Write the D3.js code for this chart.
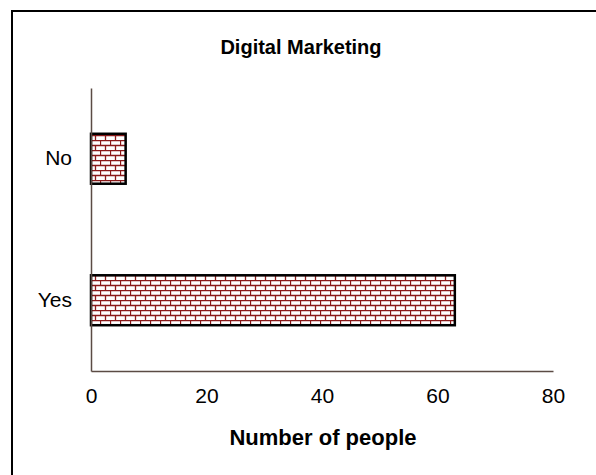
<!DOCTYPE html>
<html><head><meta charset="utf-8">
<script src="https://cdn.jsdelivr.net/npm/d3@7"></script>
<style>body{margin:0;background:#fff}svg{display:block}text{font-family:"Liberation Sans",Arial,sans-serif}</style>
</head><body>
<script>
const categories = ["No", "Yes"];
const values = [6, 63];
const xTicks = [0, 20, 40, 60, 80];
const title = "Digital Marketing";
const xTitle = "Number of people";

(function () {
const W = 596, H = 475;
const svg = d3.select("body").append("svg").attr("width", W).attr("height", H);
const defs = svg.append("defs");
const pat = defs.append("pattern").attr("id", "brick").attr("patternUnits", "userSpaceOnUse")
  .attr("width", 10).attr("height", 10);
pat.append("rect").attr("width", 10).attr("height", 10).attr("fill", "#fff");
const pc = "#8b1a1a";
pat.append("path").attr("d", "M0,0.5H10M0,5.5H10M0.5,0V5.5M5.5,5.5V10")
  .attr("stroke", pc).attr("stroke-width", 1.3).attr("fill", "none");

svg.append("rect").attr("x", 12).attr("y", 11).attr("width", 600).attr("height", 500)
  .attr("fill", "none").attr("stroke", "#000").attr("stroke-width", 2);

const mLeft = 91, mRight = 553, mTop = 88, mBottom = 371;
const x = d3.scaleLinear().domain([0, 80]).range([mLeft, mRight]);
const y = d3.scaleBand().domain(categories).range([mTop, mBottom]).paddingInner(0.647).paddingOuter(0.3235);

svg.append("text").attr("x", 301).attr("y", 54).attr("text-anchor", "middle")
  .attr("font-weight", "bold").attr("font-size", 20).text(title);

svg.selectAll("rect.bar").data(categories).enter().append("rect").attr("class", "bar")
  .attr("x", x(0)).attr("y", d => y(d))
  .attr("width", (d, i) => x(values[i]) - x(0)).attr("height", y.bandwidth())
  .attr("fill", "url(#brick)").attr("stroke", "#000").attr("stroke-width", 2.5);

const axColor = "#5b4b44";
const xAxis = svg.append("g").attr("transform", `translate(0,${mBottom})`)
  .call(d3.axisBottom(x).tickValues(xTicks).tickSize(0).tickPadding(17));
xAxis.select(".domain").attr("stroke", axColor).attr("stroke-width", 1.5);
xAxis.selectAll("text").attr("font-size", 21).attr("fill", "#000").attr("font-family", "Liberation Sans, Arial, sans-serif");

const yAxis = svg.append("g").attr("transform", `translate(${mLeft},0)`)
  .call(d3.axisLeft(y).tickSize(0).tickPadding(19));
yAxis.select(".domain").attr("stroke", axColor).attr("stroke-width", 1.5);
yAxis.selectAll("text").attr("font-size", 21).attr("fill", "#000").attr("font-family", "Liberation Sans, Arial, sans-serif");

svg.append("text").attr("x", 323).attr("y", 445).attr("text-anchor", "middle")
  .attr("font-weight", "bold").attr("font-size", 22).text(xTitle);
})();
</script>
</body></html>
